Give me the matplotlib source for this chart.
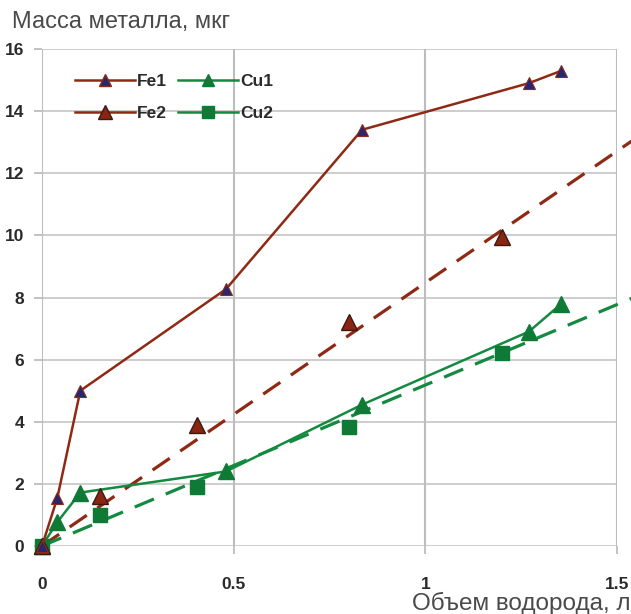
import matplotlib
matplotlib.use("Agg")
import matplotlib.pyplot as plt
from matplotlib.lines import Line2D

plt.rcParams['font.family'] = ['Liberation Sans', 'DejaVu Sans']

# data
fe1_x = [0, 0.04, 0.10, 0.48, 0.835, 1.27, 1.355]
fe1_y = [0, 1.55, 5.0, 8.27, 13.4, 14.9, 15.3]

fe2_x = [0, 0.15, 0.405, 0.80, 1.20]
fe2_y = [0, 1.6, 3.9, 7.2, 9.95]

cu1_x = [0, 0.04, 0.10, 0.48, 0.835, 1.27, 1.355]
cu1_y = [0, 0.77, 1.72, 2.4, 4.55, 6.9, 7.8]

cu2_x = [0, 0.15, 0.405, 0.80, 1.20]
cu2_y = [0, 1.0, 1.9, 3.84, 6.2]

# dashed trend lines (end points)
trend_x = [0, 1.54]
fe2_trend = [0, 13.05]
cu2_trend = [0, 7.98]

y_ticks = [0, 2, 4, 6, 8, 10, 12, 14, 16]
x_ticks = [0, 0.5, 1, 1.5]
x_tick_labels = ['0', '0.5', '1', '1.5']

BROWN = '#8e2a14'
NAVY = '#27266f'
FE2_FILL = '#8a2512'
GREEN = '#138a3f'
GREEN_M = '#0e7a36'

fig = plt.figure(figsize=(6.31, 6.14), dpi=100)
ax = fig.add_axes([42 / 631, 1 - 546 / 614, (617 - 42) / 631, (546 - 49) / 614])

# grid
for yv in y_ticks:
    ax.axhline(yv, color='#c9c9c9', lw=1.3, zorder=0)
for xv in x_ticks[1:]:
    ax.axvline(xv, color='#bdbdbd', lw=1.5, zorder=0)
ax.axvline(0, color='#bdbdbd', lw=1.5, zorder=0)

# trend lines
ax.plot(trend_x, fe2_trend, color=BROWN, lw=2.3, dashes=(6.5, 4), clip_on=False, zorder=2)
ax.plot(trend_x, cu2_trend, color=GREEN, lw=2.3, dashes=(6.5, 4), clip_on=False, zorder=2)

# series
ax.plot(cu1_x, cu1_y, color=GREEN, lw=1.8, marker='^', ms=11,
        mfc=GREEN_M, mec=GREEN_M, zorder=3, clip_on=False)
ax.plot(cu2_x, cu2_y, ls='none', marker='s', ms=10,
        mfc=GREEN_M, mec=GREEN_M, zorder=4, clip_on=False)
ax.plot(fe2_x, fe2_y, ls='none', marker='^', ms=11,
        mfc=FE2_FILL, mec='#3b1a12', mew=1.0, zorder=5, clip_on=False)
ax.plot(fe1_x, fe1_y, color=BROWN, lw=1.8, marker='^', ms=9,
        mfc=NAVY, mec=BROWN, mew=0.8, zorder=6, clip_on=False)

ax.set_xlim(0, 1.5)
ax.set_ylim(0, 16)
ax.set_yticks(y_ticks)
ax.set_xticks(x_ticks)
ax.set_xticklabels(x_tick_labels)
for s in ax.spines.values():
    s.set_visible(False)
ax.tick_params(axis='both', length=6, width=1.3, color='#bdbdbd',
               labelsize=12.5, labelcolor='#2a2a2a')
ax.tick_params(axis='x', pad=16)
ax.tick_params(axis='y', pad=7)
for lab in ax.get_xticklabels() + ax.get_yticklabels():
    lab.set_clip_on(False)
    lab.set_fontweight('bold')

# legend
handles = [
    Line2D([], [], color=BROWN, lw=1.8, marker='^', ms=9, mfc=NAVY, mec=BROWN),
    Line2D([], [], color=BROWN, lw=1.8, marker='^', ms=9.5, mfc=FE2_FILL, mec='#3b1a12'),
    Line2D([], [], color=GREEN, lw=1.8, marker='^', ms=9, mfc=GREEN_M, mec=GREEN_M),
    Line2D([], [], color=GREEN, lw=1.8, marker='s', ms=9, mfc=GREEN_M, mec=GREEN_M),
]
ax.legend(handles, ['Fe1', 'Fe2', 'Cu1', 'Cu2'], ncol=2, frameon=False,
          loc='upper left', bbox_to_anchor=(0.031, 0.982),
          prop={'size': 12.5, 'weight': 'bold'},
          handlelength=3.45, handletextpad=0.1, columnspacing=0.65,
          labelspacing=1.0, labelcolor='#2a2a2a')

fig.text(12 / 631, 1 - 28 / 614, 'Масса металла, мкг', fontsize=17,
         color='#4a4a4a', ha='left', va='baseline')
fig.text(412 / 631, 1 - 610 / 614, 'Объем водорода, л', fontsize=17.5,
         color='#4a4a4a', ha='left', va='baseline')

fig.savefig('out.png', dpi=100)
